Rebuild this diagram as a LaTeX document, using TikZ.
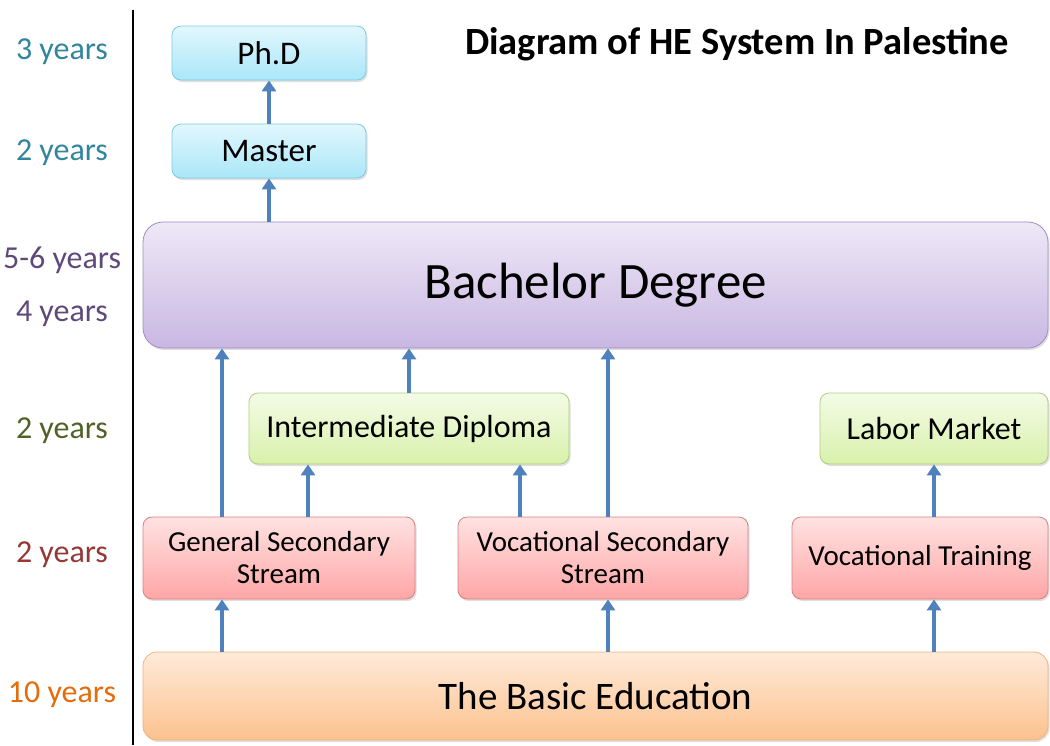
\documentclass[tikz,border=0pt]{standalone}
\usepackage{fontspec}
\setmainfont{Carlito}
\usetikzlibrary{arrows.meta, shadows}

\definecolor{flowblue}{HTML}{4F81BD}
\definecolor{cyantop}{HTML}{E2F7FD}
\definecolor{cyanbot}{HTML}{A9E7F9}
\definecolor{cyanline}{HTML}{7FCBE0}
\definecolor{purptop}{HTML}{EEE8F7}
\definecolor{purpbot}{HTML}{C9B7E2}
\definecolor{purpline}{HTML}{A08CC0}
\definecolor{greentop}{HTML}{F4FBE7}
\definecolor{greenbot}{HTML}{D8F1AB}
\definecolor{greenline}{HTML}{B2CC80}
\definecolor{redtop}{HTML}{FFE2E2}
\definecolor{redbot}{HTML}{FFA6A6}
\definecolor{redline}{HTML}{D98080}
\definecolor{orangetop}{HTML}{FFEADA}
\definecolor{orangebot}{HTML}{FCC28E}
\definecolor{orangeline}{HTML}{F2B27A}
\definecolor{tealtxt}{HTML}{31859C}
\definecolor{purptxt}{HTML}{5F497A}
\definecolor{olivetxt}{HTML}{4F6228}
\definecolor{redtxt}{HTML}{953735}
\definecolor{orangetxt}{HTML}{E46C0A}

\tikzset{
  stage/.style={rectangle, rounded corners=9pt, inner sep=0pt, line width=0.8pt,
    align=center, drop shadow={opacity=0.25, shadow xshift=1.5pt, shadow yshift=-2pt}},
  cyanbox/.style={stage, draw=cyanline, top color=cyantop, bottom color=cyanbot},
  purpbox/.style={stage, draw=purpline, top color=purptop, bottom color=purpbot, rounded corners=20pt},
  greenbox/.style={stage, draw=greenline, top color=greentop, bottom color=greenbot},
  redbox/.style={stage, draw=redline, top color=redtop, bottom color=redbot},
  orangebox/.style={stage, draw=orangeline, top color=orangetop, bottom color=orangebot, rounded corners=14pt},
  flow/.style={draw=flowblue, line width=4pt, -{Triangle[width=14pt, length=11pt]}},
  years/.style={font=\fontsize{32}{36}\selectfont}
}

\begin{document}
\begin{tikzpicture}[x=1pt, y=-1pt]
    \useasboundingbox (0,0) rectangle (1050,745);

    % time axis
    \draw[line width=2.5pt] (133,10) -- (133,745);

    \foreach \y/\txt/\col in {52/3 years/tealtxt, 153/2 years/tealtxt, 260/5-6 years/purptxt,
        314/4 years/purptxt, 431/2 years/olivetxt, 555/2 years/redtxt, 695/10 years/orangetxt}
    \node[years, text=\col] at (62,\y) {\txt};

    \node[font=\bfseries\fontsize{38.5}{42}\selectfont] (title) at (737,44) {Diagram of HE System In Palestine};

    % stages
    \node[cyanbox, minimum width=194pt, minimum height=54pt, font=\fontsize{33}{36}\selectfont] (phd) at (269,53) {Ph.D};
    \node[cyanbox, minimum width=194pt, minimum height=54pt, font=\fontsize{33}{36}\selectfont] (master) at (269,151) {Master};
    \node[purpbox, minimum width=905pt, minimum height=126pt, font=\fontsize{51}{56}\selectfont] (bachelor) at (595.5,285) {Bachelor Degree};
    \node[greenbox, minimum width=320pt, minimum height=71pt, font=\fontsize{32}{36}\selectfont] (diploma) at (409,428.5) {Intermediate Diploma};
    \node[greenbox, minimum width=228pt, minimum height=71pt, font=\fontsize{32}{36}\selectfont] (labor) at (934,428.5) {Labor Market};
    \node[redbox, minimum width=272pt, minimum height=82pt, font=\fontsize{29}{32}\selectfont] (general) at (279,558) {General Secondary\\Stream};
    \node[redbox, minimum width=290pt, minimum height=82pt, font=\fontsize{29}{32}\selectfont] (vocsec) at (603,558) {Vocational Secondary\\Stream};
    \node[redbox, minimum width=256pt, minimum height=82pt, font=\fontsize{29}{32}\selectfont] (training) at (920,558) {Vocational Training};
    \node[orangebox, minimum width=905pt, minimum height=88pt, font=\fontsize{39}{42}\selectfont] (basic) at (595.5,696) {The Basic Education};

    % arrows
    \draw[flow] (master.north) -- (phd.south);
    \draw[flow] (master.north |- bachelor.north) -- (master.south);
    \draw[flow] (diploma.north) -- (diploma.north |- bachelor.south);

    \foreach \src/\dx in {general/-57, vocsec/5, training/14}
    \draw[flow] ([xshift=\dx]\src.south |- basic.north) -- ([xshift=\dx]\src.south);

    \draw[flow] ([xshift=-57]general.north) -- ([xshift=-57]general.north |- bachelor.south);
    \draw[flow] ([xshift=29]general.north) -- ([xshift=29]general.north |- diploma.south);
    \draw[flow] ([xshift=-83]vocsec.north) -- ([xshift=-83]vocsec.north |- diploma.south);
    \draw[flow] ([xshift=5]vocsec.north) -- ([xshift=5]vocsec.north |- bachelor.south);
    \draw[flow] (labor.south |- training.north) -- (labor.south);
\end{tikzpicture}
\end{document}
